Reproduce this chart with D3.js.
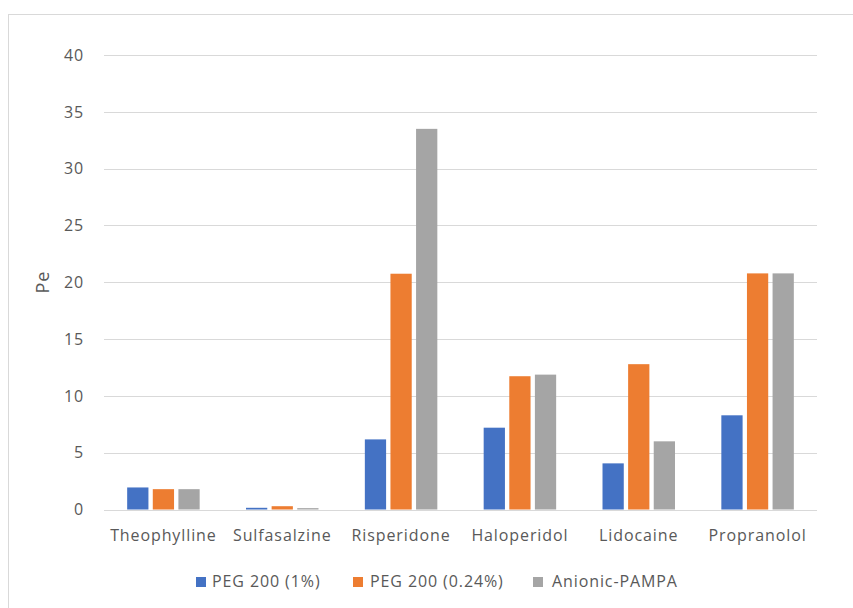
<!DOCTYPE html>
<html>
<head>
<meta charset="utf-8">
<script src="https://cdn.jsdelivr.net/npm/d3@7"></script>
<style>
  html, body { margin: 0; padding: 0; background: #fff; }
  svg { display: block; }
  text { font-family: "Open Sans", "Liberation Sans", sans-serif; fill: #595959; letter-spacing: 0.9px; }
</style>
</head>
<body>
<svg id="chart" width="853" height="608"></svg>
<script>
// Permeability (Pe) by compound and membrane model
const categories = ["Theophylline", "Sulfasalzine", "Risperidone", "Haloperidol", "Lidocaine", "Propranolol"];
const seriesNames = ["PEG 200 (1%)", "PEG 200 (0.24%)", "Anionic-PAMPA"];
const peg1 = [1.94, 0.15, 6.17, 7.2, 4.06, 8.29];
const peg024 = [1.79, 0.29, 20.75, 11.73, 12.79, 20.78];
const anionic = [1.79, 0.12, 33.5, 11.87, 6.0, 20.78];
const yTicks = [0, 5, 10, 15, 20, 25, 30, 35, 40];
const colors = ["#4472C4", "#ED7D31", "#A5A5A5"];

const seriesValues = [peg1, peg024, anionic];

const svg = d3.select("#chart");

// outer chart frame
svg.append("rect")
  .attr("x", 8.5).attr("y", 14.5)
  .attr("width", 900).attr("height", 700)
  .attr("fill", "none").attr("stroke", "#d9d9d9").attr("stroke-width", 1);

const plot = { left: 104, right: 817, top: 55, bottom: 509.5 };

const y = d3.scaleLinear().domain([0, 40]).range([plot.bottom, plot.top]);

const x0 = d3.scaleBand()
  .domain(categories)
  .range([plot.left, plot.right])
  .paddingInner(0.39)
  .paddingOuter(0.195);

const x1 = d3.scaleBand()
  .domain(seriesNames)
  .range([0, x0.bandwidth()])
  .paddingInner(0.17)
  .paddingOuter(0);

// gridlines
svg.append("g")
  .selectAll("line")
  .data(yTicks)
  .join("line")
  .attr("x1", plot.left).attr("x2", plot.right)
  .attr("y1", d => Math.round(y(d)) + 0.5)
  .attr("y2", d => Math.round(y(d)) + 0.5)
  .attr("stroke", "#d9d9d9").attr("stroke-width", 1);

// y tick labels
svg.append("g")
  .selectAll("text")
  .data(yTicks)
  .join("text")
  .attr("x", 84)
  .attr("y", d => y(d))
  .attr("dy", "0.36em")
  .attr("text-anchor", "end")
  .attr("font-size", 16)
  .text(d => d);

// bars
const groups = svg.append("g")
  .selectAll("g")
  .data(categories)
  .join("g")
  .attr("transform", d => `translate(${x0(d)},0)`);

groups.selectAll("rect")
  .data((c, i) => seriesNames.map((s, k) => ({ s, k, v: seriesValues[k][i] })))
  .join("rect")
  .attr("x", d => x1(d.s))
  .attr("width", x1.bandwidth())
  .attr("y", d => y(d.v))
  .attr("height", d => y(0) - y(d.v))
  .attr("fill", d => colors[d.k]);

// category labels
svg.append("g")
  .selectAll("text")
  .data(categories)
  .join("text")
  .attr("x", d => x0(d) + x0.bandwidth() / 2)
  .attr("y", 541)
  .attr("text-anchor", "middle")
  .attr("font-size", 16)
  .text(d => d);

// y axis title
svg.append("text")
  .attr("transform", "translate(49,282) rotate(-90)")
  .attr("text-anchor", "middle")
  .attr("font-size", 18)
  .text("Pe");

// legend
const legendX = [196, 353, 533];
const legendTextX = [212, 370, 552];
const legend = svg.append("g")
  .selectAll("g")
  .data(seriesNames)
  .join("g");

legend.append("rect")
  .attr("x", (d, i) => legendX[i]).attr("y", 577)
  .attr("width", 10).attr("height", 10)
  .attr("fill", (d, i) => colors[i]);

legend.append("text")
  .attr("x", (d, i) => legendTextX[i]).attr("y", 587)
  .attr("font-size", 16)
  .text(d => d);
</script>
</body>
</html>
